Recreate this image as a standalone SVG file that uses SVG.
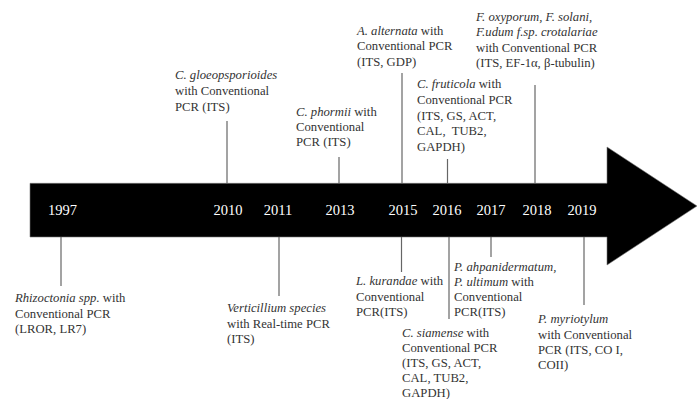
<svg xmlns="http://www.w3.org/2000/svg" width="697" height="399" viewBox="0 0 697 399">
<style>
.t{font-family:"Liberation Serif","Times New Roman",serif;font-size:12.7px;fill:#333}
.i{font-style:italic}
.y{font-family:"Liberation Serif","Times New Roman",serif;font-size:14.5px;fill:#fff;text-anchor:middle}
.c{stroke:#666;stroke-width:1.2;fill:none}
</style>
<rect width="697" height="399" fill="#fff"/>
<g id="arrow">
<polygon points="30,183.3 607,183.3 607,147 697,206 607,265 607,237 30,237" fill="#000" stroke="#777" stroke-width="0.6"/>
<text class="y" x="62.5" y="215">1997</text>
<text class="y" x="228" y="215">2010</text>
<text class="y" x="278" y="215">2011</text>
<text class="y" x="340" y="215">2013</text>
<text class="y" x="403" y="215">2015</text>
<text class="y" x="447" y="215">2016</text>
<text class="y" x="491" y="215">2017</text>
<text class="y" x="537" y="215">2018</text>
<text class="y" x="582" y="215">2019</text>
</g>
<g id="connectors">
<line class="c" x1="227" y1="121" x2="227" y2="183"/>
<line class="c" x1="339" y1="157" x2="339" y2="183"/>
<line class="c" x1="402" y1="73" x2="402" y2="183"/>
<line class="c" x1="447.5" y1="159" x2="447.5" y2="183"/>
<line class="c" x1="535" y1="85" x2="535" y2="183"/>
<line class="c" x1="61" y1="237" x2="61" y2="286"/>
<line class="c" x1="279" y1="237" x2="279" y2="296"/>
<line class="c" x1="401.5" y1="237" x2="401.5" y2="272"/>
<line class="c" x1="449" y1="237" x2="449" y2="319"/>
<line class="c" x1="491" y1="237" x2="491" y2="257"/>
<line class="c" x1="584" y1="237" x2="584" y2="305"/>
</g>
<g id="n2010">
<text class="t" x="175" y="79"><tspan class="i">C. gloeopsporioides</tspan></text>
<text class="t" x="175" y="95">with Conventional</text>
<text class="t" x="175" y="111">PCR (ITS)</text>
</g>
<g id="n2013">
<text class="t" x="296" y="115.5"><tspan class="i">C. phormii</tspan> with</text>
<text class="t" x="296" y="131">Conventional</text>
<text class="t" x="296" y="146">PCR (ITS)</text>
</g>
<g id="n2015a">
<text class="t" x="357" y="34.7"><tspan class="i">A. alternata</tspan> with</text>
<text class="t" x="357" y="50">Conventional PCR</text>
<text class="t" x="357" y="65.5">(ITS, GDP)</text>
</g>
<g id="n2016a">
<text class="t" x="417" y="88"><tspan class="i">C. fruticola</tspan> with</text>
<text class="t" x="417" y="104">Conventional PCR</text>
<text class="t" x="417" y="119.5">(ITS, GS, ACT,</text>
<text class="t" x="417" y="135" xml:space="preserve">CAL,  TUB2,</text>
<text class="t" x="417" y="150.5">GAPDH)</text>
</g>
<g id="n2018">
<text class="t i" x="476" y="20.7">F. oxyporum, F. solani,</text>
<text class="t i" x="476" y="36">F.udum f.sp. crotalariae</text>
<text class="t" x="476" y="52">with Conventional PCR</text>
<text class="t" x="476" y="67">(ITS, EF-1α, β-tubulin)</text>
</g>
<g id="n1997">
<text class="t" x="15" y="302"><tspan class="i">Rhizoctonia spp.</tspan> with</text>
<text class="t" x="15" y="317.5">Conventional PCR</text>
<text class="t" x="15" y="333">(LROR, LR7)</text>
</g>
<g id="n2011">
<text class="t i" x="227" y="312">Verticillium species</text>
<text class="t" x="227" y="327.5">with Real-time PCR</text>
<text class="t" x="227" y="342.5">(ITS)</text>
</g>
<g id="n2015b">
<text class="t" x="356" y="285"><tspan class="i">L. kurandae</tspan> with</text>
<text class="t" x="356" y="300.7">Conventional</text>
<text class="t" x="356" y="316">PCR(ITS)</text>
</g>
<g id="n2016b">
<text class="t" x="402" y="336.7"><tspan class="i">C. siamense</tspan> with</text>
<text class="t" x="402" y="351.7">Conventional PCR</text>
<text class="t" x="402" y="366.7">(ITS, GS, ACT,</text>
<text class="t" x="402" y="381.7">CAL, TUB2,</text>
<text class="t" x="402" y="396.7">GAPDH)</text>
</g>
<g id="n2017">
<text class="t i" x="454" y="270.7">P. ahpanidermatum,</text>
<text class="t" x="454" y="285.7"><tspan class="i">P. ultimum</tspan> with</text>
<text class="t" x="454" y="300.7">Conventional</text>
<text class="t" x="454" y="316">PCR(ITS)</text>
</g>
<g id="n2019">
<text class="t i" x="538" y="323">P. myriotylum</text>
<text class="t" x="538" y="339">with Conventional</text>
<text class="t" x="538" y="354">PCR (ITS, CO I,</text>
<text class="t" x="538" y="369">COII)</text>
</g>
</svg>
